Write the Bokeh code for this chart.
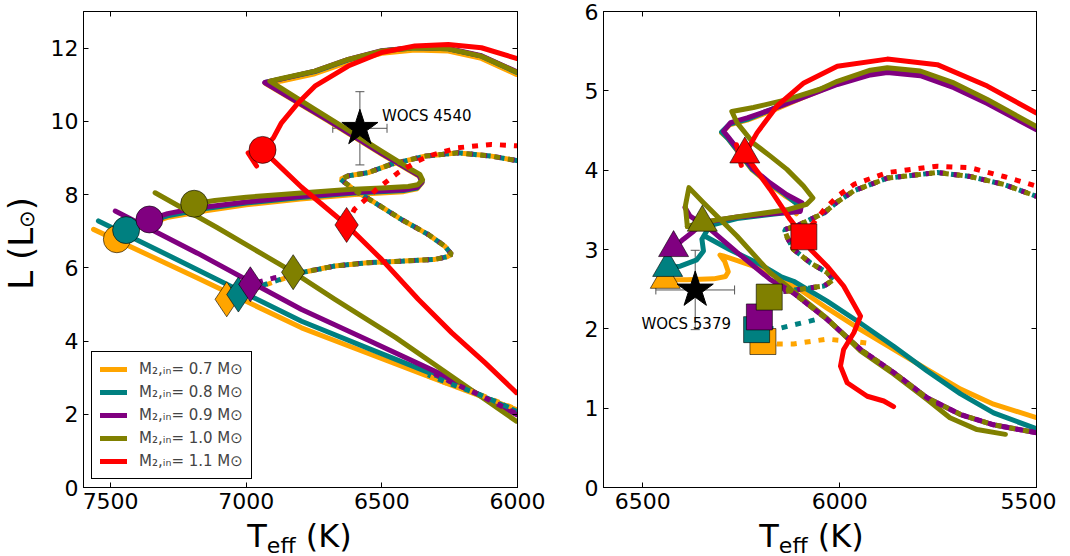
import math
from bokeh.plotting import figure
from bokeh.models import (Range1d, LinearAxis, FixedTicker, Legend, LegendItem,
                          Whisker, TeeHead, ColumnDataSource, Div)
from bokeh.layouts import row, column
from bokeh.embed import file_html
from bokeh.resources import INLINE
from bokeh.core.properties import value

# ---------------- data: left panel (T_eff in K, L in Lsun) ----------------
masses = ["0.7", "0.8", "0.9", "1.0", "1.1"]
colors = ["#FFA500", "#008080", "#800080", "#808000", "#FF0000"]

a07_low_T = [7563, 7180, 6796, 6550, 6280, 6004]
a07_low_L = [7.05, 5.72, 4.36, 3.66, 2.90, 2.13]
a08_low_T = [7545, 7180, 6796, 6550, 6280, 6004]
a08_low_L = [7.28, 5.95, 4.54, 3.80, 3.00, 2.08]
a09_low_T = [7483, 7180, 6796, 6550, 6280, 6004]
a09_low_L = [7.55, 6.40, 4.86, 4.02, 3.09, 1.99]
a10_low_T = [7336, 7108, 6827, 6673, 6450, 6243, 6004]
a10_low_L = [8.05, 7.10, 5.88, 5.14, 4.10, 3.04, 1.81]
a11_low_T = [6940, 6796, 6630, 6501, 6366, 6243, 6120, 6004]
a11_low_L = [9.22, 8.20, 7.17, 6.23, 5.14, 4.23, 3.41, 2.59]
a11_tail_T = [6993, 6962]
a11_tail_L = [9.14, 8.78]

a07_up_T = [7477, 7400, 7293, 7150, 7000, 6800, 6600, 6420, 6370, 6352, 6362, 6400, 6500, 6700, 6930,
            6870, 6747, 6624, 6501, 6378, 6255, 6133, 6004]
a07_up_L = [6.78, 7.10, 7.37, 7.56, 7.72, 7.88, 8.00, 8.08, 8.16, 8.32, 8.50, 8.66, 9.10, 10.02, 11.04,
            11.10, 11.30, 11.62, 11.86, 11.95, 11.92, 11.72, 11.28]
a08_up_T = [7443, 7380, 7290, 7150, 7000, 6800, 6600, 6420, 6370, 6352, 6362, 6400, 6500, 6700, 6930,
            6870, 6747, 6624, 6501, 6378, 6255, 6133, 6004]
a08_up_L = [7.03, 7.22, 7.42, 7.62, 7.77, 7.92, 8.04, 8.11, 8.18, 8.34, 8.52, 8.68, 9.12, 10.04, 11.06,
            11.16, 11.36, 11.68, 11.92, 12.01, 11.98, 11.78, 11.34]
a09_up_T = [7357, 7290, 7194, 7000, 6800, 6600, 6420, 6370, 6352, 6362, 6400, 6500, 6700, 6932,
            6870, 6747, 6624, 6501, 6378, 6255, 6133, 6004]
a09_up_L = [7.32, 7.48, 7.62, 7.80, 7.95, 8.06, 8.13, 8.20, 8.35, 8.52, 8.68, 9.12, 10.04, 11.06,
            11.16, 11.37, 11.69, 11.93, 12.02, 11.99, 11.79, 11.36]
a10_up_T = [7192, 7116, 7000, 6870, 6750, 6624, 6500, 6403, 6368, 6350, 6360, 6400, 6500, 6624, 6747,
            6870, 6913, 6870, 6747, 6624, 6501, 6378, 6255, 6133, 6004]
a10_up_L = [7.75, 7.84, 7.93, 8.00, 8.07, 8.14, 8.18, 8.22, 8.27, 8.40, 8.55, 8.72, 9.18, 9.76, 10.33,
            10.90, 11.10, 11.17, 11.37, 11.69, 11.92, 12.01, 11.98, 11.78, 11.35]
a11_up_T = [6940, 6900, 6870, 6808, 6747, 6624, 6501, 6378, 6255, 6133, 6004]
a11_up_L = [9.22, 9.55, 9.96, 10.51, 10.96, 11.51, 11.88, 12.06, 12.10, 12.01, 11.72]

# dotted tracks (left): start near each diamond, then common loop
a07_dot_start_T = [7072, 6960, 6880]
a07_dot_start_L = [5.14, 5.45, 5.66]
a08_dot_start_T = [7029, 6940, 6860]
a08_dot_start_L = [5.27, 5.52, 5.72]
a09_dot_start_T = [6985, 6900]
a09_dot_start_L = [5.55, 5.72]
a10_dot_start_T = [6827]
a10_dot_start_L = [5.88]
a_dot_T = [6796, 6673, 6550, 6428, 6305, 6260, 6243, 6268, 6329, 6428, 6526, 6587, 6637, 6652,
           6624, 6550, 6464, 6341, 6219, 6096, 5997]
a_dot_L = [5.87, 6.05, 6.14, 6.18, 6.23, 6.30, 6.37, 6.59, 6.91, 7.32, 7.78, 8.05, 8.33, 8.42,
           8.51, 8.60, 8.83, 9.05, 9.14, 9.05, 8.92]
a11_dot_T = [6630, 6601, 6587, 6520, 6440, 6366, 6329, 6219, 6096, 5997]
a11_dot_L = [7.17, 7.60, 7.69, 8.14, 8.60, 8.92, 9.05, 9.28, 9.37, 9.33]
a_dot2_T = [6330, 6250, 6150, 6004]
a07_dot2_L = [3.05, 2.82, 2.57, 2.14]
a08_dot2_L = [3.08, 2.84, 2.57, 2.10]
a09_dot2_L = [3.20, 2.90, 2.56, 2.02]

a_circ_T = [7477, 7443, 7357, 7192, 6940]
a_circ_L = [6.78, 7.03, 7.32, 7.75, 9.22]
a_diam_T = [7072, 7029, 6985, 6827, 6630]
a_diam_L = [5.14, 5.27, 5.55, 5.88, 7.17]

# ---------------- data: right panel ----------------
b07_up_T = [6443, 6388, 6320, 6290, 6283, 6292, 6304, 6296, 6260, 6219, 6150, 6117, 6032, 5947, 5863,
            5778, 5693, 5609, 5500]
b07_up_L = [2.62, 2.62, 2.63, 2.66, 2.72, 2.85, 2.93, 2.92, 2.86, 2.79, 2.64, 2.55, 2.26, 1.99, 1.74,
            1.49, 1.24, 1.05, 0.88]
b07_top_T = [6110, 6098, 6140, 6180, 6222, 6284, 6300, 6280, 6235, 6176, 6091, 6006, 5922, 5879, 5795,
             5710, 5625, 5500]
b07_top_L = [3.45, 3.55, 3.68, 3.83, 4.00, 4.40, 4.47, 4.57, 4.63, 4.74, 4.92, 5.09, 5.22, 5.25, 5.21,
             5.06, 4.86, 4.53]
b08_up_T = [6437, 6405, 6363, 6346, 6350, 6330, 6261, 6177, 6109, 6105, 6140, 6180, 6222, 6284, 6300,
            6280, 6235, 6176, 6091, 6006, 5922, 5879, 5795, 5710, 5625, 5500]
b08_up_L = [2.77, 2.79, 2.87, 2.98, 3.13, 3.30, 3.39, 3.44, 3.48, 3.56, 3.70, 3.84, 4.01, 4.40, 4.48,
            4.58, 4.64, 4.76, 4.94, 5.10, 5.22, 5.25, 5.21, 5.06, 4.86, 4.54]
b08_low_T = [6343, 6280, 6201, 6150, 6117, 6032, 5947, 5863, 5778, 5693, 5609, 5500]
b08_low_L = [3.17, 3.00, 2.81, 2.66, 2.60, 2.35, 2.07, 1.78, 1.47, 1.18, 0.94, 0.74]
b09_up_T = [6422, 6397, 6371, 6346, 6261, 6177, 6100, 6096, 6134, 6177, 6219, 6282, 6295, 6277, 6235,
            6176, 6091, 6006, 5922, 5879, 5795, 5710, 5625, 5500]
b09_up_L = [3.02, 3.13, 3.23, 3.34, 3.41, 3.45, 3.48, 3.59, 3.69, 3.84, 4.01, 4.41, 4.49, 4.60, 4.66,
            4.76, 4.92, 5.08, 5.20, 5.23, 5.19, 5.04, 4.84, 4.51]
b09_low_T = [6393, 6380, 6328, 6260, 6176, 6117, 6032, 5947, 5863, 5778, 5693, 5609, 5500]
b09_low_L = [3.53, 3.42, 3.25, 2.96, 2.62, 2.45, 2.12, 1.74, 1.45, 1.13, 0.92, 0.79, 0.69]
b10_up_T = [6387, 6349, 6304, 6219, 6134, 6084, 6068, 6092, 6134, 6177, 6219, 6261, 6274, 6219, 6134,
            6050, 6006, 5922, 5879, 5795, 5710, 5625, 5500]
b10_up_L = [3.29, 3.34, 3.38, 3.44, 3.50, 3.57, 3.65, 3.80, 4.01, 4.18, 4.34, 4.60, 4.74, 4.79, 4.89,
            5.02, 5.12, 5.26, 5.29, 5.25, 5.10, 4.89, 4.55]
b10_low_T = [6387, 6392, 6383, 6346, 6261, 6177, 6117, 6032, 5947, 5863, 5778, 5720, 5651, 5579]
b10_low_L = [3.29, 3.55, 3.78, 3.59, 3.17, 2.71, 2.47, 2.13, 1.72, 1.43, 1.11, 0.88, 0.73, 0.67]
b11_up_T = [6241, 6210, 6159, 6091, 6006, 5879, 5752, 5625, 5500]
b11_up_L = [4.20, 4.47, 4.81, 5.10, 5.31, 5.40, 5.33, 5.06, 4.72]
b11_low_T = [6241, 6177, 6126, 6092, 6074, 6032, 5990, 5947, 5964, 5990, 5998, 5981, 5930, 5888, 5863]
b11_low_L = [4.20, 3.76, 3.38, 3.16, 3.00, 2.79, 2.54, 2.16, 1.95, 1.74, 1.53, 1.32, 1.15, 1.09, 1.02]
b11_tail_T = [6262, 6250]
b11_tail_L = [4.32, 4.06]

b_loop_T = [6143, 6100, 6040, 6015, 6032, 6074, 6117, 6133, 6140, 6108, 6074, 6040, 6006, 5964, 5879,
            5752, 5668, 5583, 5500]
b_loop_L = [2.47, 2.50, 2.54, 2.62, 2.71, 2.83, 3.00, 3.15, 3.25, 3.30, 3.38, 3.46, 3.60, 3.74, 3.90,
            3.97, 3.92, 3.82, 3.67]
b07_dot_T = [6195, 6159, 6117, 6032, 5964, 5930]
b07_dot_L = [1.84, 1.81, 1.81, 1.87, 1.84, 1.82]
b08_dot_T = [6211, 6150, 6117, 6074, 6058]
b08_dot_L = [1.99, 2.01, 2.05, 2.10, 2.12]
b09_dot_start_T = [6204, 6175]
b09_dot_start_L = [2.15, 2.35]
b10_dot_start_T = [6179]
b10_dot_start_L = [2.40]
b11_dot_T = [6091, 6074, 6040, 6006, 5964, 5879, 5752, 5668, 5583, 5500]
b11_dot_L = [3.16, 3.29, 3.50, 3.67, 3.82, 3.97, 4.05, 4.03, 3.92, 3.80]
b_dot2_T = [6150, 6117, 6032, 5947, 5863, 5778, 5693, 5609, 5500]
b_dot2_L = [2.55, 2.45, 2.12, 1.74, 1.45, 1.13, 0.92, 0.79, 0.69]

b_tri_T = [6443, 6437, 6422, 6349, 6241]
b_tri_L = [2.62, 2.77, 3.02, 3.34, 4.20]
b_sq_T = [6195, 6211, 6204, 6179, 6091]
b_sq_L = [1.84, 1.99, 2.15, 2.40, 3.16]

# observed stars
star_name = ["WOCS 4540", "WOCS 5379"]
star_T = [6581, 6367]
star_L = [9.81, 2.49]
star_dT = [100, 100]
star_dL = [1.0, 0.5]

FONT = "DejaVu Sans"
LW = 5
DASH = "6 8"
FH = 476          # frame height
TOP = 11          # border above frame
BOT = 32          # border below frame (tick labels)
FIG_H = TOP + FH + BOT
YLAB_W = 32


def make_fig(xr, yr, xticks, yticks, fw, bl, br):
    p = figure(frame_width=fw, frame_height=FH, x_range=Range1d(*xr), y_range=Range1d(*yr),
               output_backend="svg", toolbar_location=None,
               min_border_left=bl, min_border_right=br, min_border_top=TOP, min_border_bottom=BOT)
    p.grid.visible = False
    p.outline_line_color = "black"
    p.outline_line_width = 1
    p.outline_line_alpha = 1
    for ax, ticks in ((p.xaxis[0], xticks), (p.yaxis[0], yticks)):
        ax.ticker = FixedTicker(ticks=ticks)
        ax.major_tick_in = 5
        ax.major_tick_out = 0
        ax.minor_tick_line_color = None
        ax.axis_line_color = "black"
        ax.major_tick_line_color = "black"
        ax.major_label_text_font = FONT
        ax.major_label_text_font_size = "22px"
        ax.major_label_text_color = "black"
        ax.major_label_standoff = 5
    for loc, ticks in (("above", xticks), ("right", yticks)):
        ax = LinearAxis(ticker=FixedTicker(ticks=ticks),
                        major_label_overrides={t: "" for t in ticks},
                        major_label_text_font_size="1px", major_label_standoff=0,
                        major_tick_in=5, major_tick_out=0, minor_tick_line_color=None,
                        axis_line_color="black", major_tick_line_color="black")
        p.add_layout(ax, loc)
    return p


def xlabel_div(width, frame_center):
    pad_l = max(0, int(2 * frame_center - width))
    pad_r = max(0, int(width - 2 * frame_center))
    html = (f'<div style="width:{width - pad_l - pad_r}px;padding-left:{pad_l}px;padding-right:{pad_r}px;'
            f'padding-top:2px;text-align:center;white-space:nowrap;font-family:\'DejaVu Sans\';'
            f'font-size:32px;line-height:20px;color:black">'
            f'T<sub style="font-size:22px;line-height:0;vertical-align:-6px">eff</sub> (K)</div>')
    return Div(text=html, width=width, height=34, styles={"overflow": "visible"})


def ylabel_div(height, frame_center):
    pad_b = max(0, int(2 * (height / 2 - frame_center)))
    html = (f'<div style="height:{height - pad_b}px;padding-bottom:{pad_b}px;display:flex;'
            f'align-items:center;padding-left:0px">'
            f'<div style="writing-mode:vertical-rl;transform:rotate(180deg);white-space:nowrap;'
            f'font-family:\'DejaVu Sans\';font-size:34px;line-height:32px;color:black">'
            f'L (L<sub style="font-size:21px;line-height:0;vertical-align:-6px">\u2299</sub>)</div></div>')
    return Div(text=html, width=YLAB_W, height=height, styles={"overflow": "visible"})


def solid(p, T, L, c):
    return p.line(T, L, line_color=c, line_width=LW, line_join="round", line_cap="round")


def dotted(p, T, L, c, off=0):
    return p.line(T, L, line_color=c, line_width=LW, line_dash=DASH, line_dash_offset=off,
                  line_cap="butt")


def star(p, i, dx, dy, align):
    src = ColumnDataSource(dict(x=[star_T[i]], y=[star_L[i]],
                                xl=[star_T[i] - star_dT[i]], xu=[star_T[i] + star_dT[i]],
                                yl=[star_L[i] - star_dL[i]], yu=[star_L[i] + star_dL[i]],
                                name=[star_name[i]]))
    ec = "#555555"
    p.add_layout(Whisker(source=src, base="y", lower="xl", upper="xu", dimension="width",
                         line_color=ec, line_width=1,
                         upper_head=TeeHead(size=9, line_color=ec, line_width=1),
                         lower_head=TeeHead(size=9, line_color=ec, line_width=1)))
    p.add_layout(Whisker(source=src, base="x", lower="yl", upper="yu", dimension="height",
                         line_color=ec, line_width=1,
                         upper_head=TeeHead(size=9, line_color=ec, line_width=1),
                         lower_head=TeeHead(size=9, line_color=ec, line_width=1)))
    p.scatter("x", "y", source=src, marker="star", size=38, fill_color="black", line_color="black")
    p.text("x", "y", text="name", source=src, x_offset=dx, y_offset=dy,
           text_font=value(FONT), text_font_size="15px", text_align=align, text_baseline="middle",
           text_color="black")


# ---------------- left panel ----------------
BL1, FW1, BR1 = 41, 434, 30
p1 = make_fig((7600, 6000), (0, 13), [7500, 7000, 6500, 6000], [0, 2, 4, 6, 8, 10, 12], FW1, BL1, BR1)

lows = [(a07_low_T, a07_low_L), (a08_low_T, a08_low_L), (a09_low_T, a09_low_L),
        (a10_low_T, a10_low_L), (a11_low_T, a11_low_L)]
ups = [(a07_up_T, a07_up_L), (a08_up_T, a08_up_L), (a09_up_T, a09_up_L),
       (a10_up_T, a10_up_L), (a11_up_T, a11_up_L)]
dots = [(a07_dot_start_T + a_dot_T, a07_dot_start_L + a_dot_L),
        (a08_dot_start_T + a_dot_T, a08_dot_start_L + a_dot_L),
        (a09_dot_start_T + a_dot_T, a09_dot_start_L + a_dot_L),
        (a10_dot_start_T + a_dot_T, a10_dot_start_L + a_dot_L),
        (a11_dot_T, a11_dot_L)]
offs = [0, 3, 7, 10, 0]
legend_rs = []
for i in range(5):
    r = solid(p1, lows[i][0], lows[i][1], colors[i])
    solid(p1, ups[i][0], ups[i][1], colors[i])
    if i == 4:
        solid(p1, a11_tail_T, a11_tail_L, colors[i])
    dotted(p1, dots[i][0], dots[i][1], colors[i], offs[i])
    if i == 3:
        for j, Ld in enumerate([a07_dot2_L, a08_dot2_L, a09_dot2_L]):
            dotted(p1, a_dot2_T, Ld, colors[j], offs[j])
    legend_rs.append(r)

for i in range(5):
    p1.scatter([a_circ_T[i]], [a_circ_L[i]], marker="circle", size=27, fill_color=colors[i],
               line_color="black", line_width=0.6)
for i in range(5):
    p1.scatter([a_diam_T[i]], [a_diam_L[i]], marker="diamond", size=35, fill_color=colors[i],
               line_color="black", line_width=0.6)
star(p1, 0, 22, -12, "left")

legend = Legend(items=[LegendItem(label=f"M\u2082,\u1d62\u2099= {m} M\u2299", renderers=[r])
                       for m, r in zip(masses, legend_rs)],
                location="bottom_left", border_line_color="black", border_line_width=1,
                border_line_alpha=1, label_text_font=FONT, label_text_font_size="15px",
                glyph_width=27, glyph_height=18, label_height=18, spacing=5, padding=8, margin=8,
                label_standoff=12, background_fill_alpha=1)
p1.add_layout(legend)

# ---------------- right panel ----------------
BL2, FW2, BR2 = 46, 433, 20
p2 = make_fig((6600, 5500), (0, 6), [6500, 6000, 5500], [0, 1, 2, 3, 4, 5, 6], FW2, BL2, BR2)

b_solids = [[(b07_up_T, b07_up_L), (b07_top_T, b07_top_L)],
            [(b08_up_T, b08_up_L), (b08_low_T, b08_low_L)],
            [(b09_up_T, b09_up_L), (b09_low_T, b09_low_L)],
            [(b10_up_T, b10_up_L), (b10_low_T, b10_low_L)],
            [(b11_up_T, b11_up_L), (b11_low_T, b11_low_L), (b11_tail_T, b11_tail_L)]]
b_dots = [[(b07_dot_T, b07_dot_L), (b_loop_T, b_loop_L)],
          [(b08_dot_T, b08_dot_L), (b_loop_T, b_loop_L)],
          [(b09_dot_start_T + b_loop_T, b09_dot_start_L + b_loop_L)],
          [(b10_dot_start_T + b_loop_T, b10_dot_start_L + b_loop_L)],
          [(b11_dot_T, b11_dot_L)]]
for i in range(5):
    for T, L in b_solids[i]:
        solid(p2, T, L, colors[i])
    for T, L in b_dots[i]:
        dotted(p2, T, L, colors[i], offs[i])
    if i == 3:
        dotted(p2, b_dot2_T, b_dot2_L, colors[2], 0)
        dotted(p2, b_dot2_T, b_dot2_L, colors[3], 7)

for i in range(5):
    p2.scatter([b_tri_T[i]], [b_tri_L[i]], marker="triangle", size=30, fill_color=colors[i],
               line_color="black", line_width=0.6)
for i in range(5):
    p2.scatter([b_sq_T[i]], [b_sq_L[i]], marker="square", size=26, fill_color=colors[i],
               line_color="black", line_width=0.6)
star(p2, 1, -9, 34, "center")

W1 = BL1 + FW1 + BR1
W2 = BL2 + FW2 + BR2
ylab = ylabel_div(FIG_H, TOP + FH / 2)
xlab1 = xlabel_div(W1, BL1 + FW1 / 2)
xlab2 = xlabel_div(W2, BL2 + FW2 / 2)

layout = row(ylab, column(p1, xlab1), column(p2, xlab2))
open("out.html", "w").write(file_html(layout, INLINE))
